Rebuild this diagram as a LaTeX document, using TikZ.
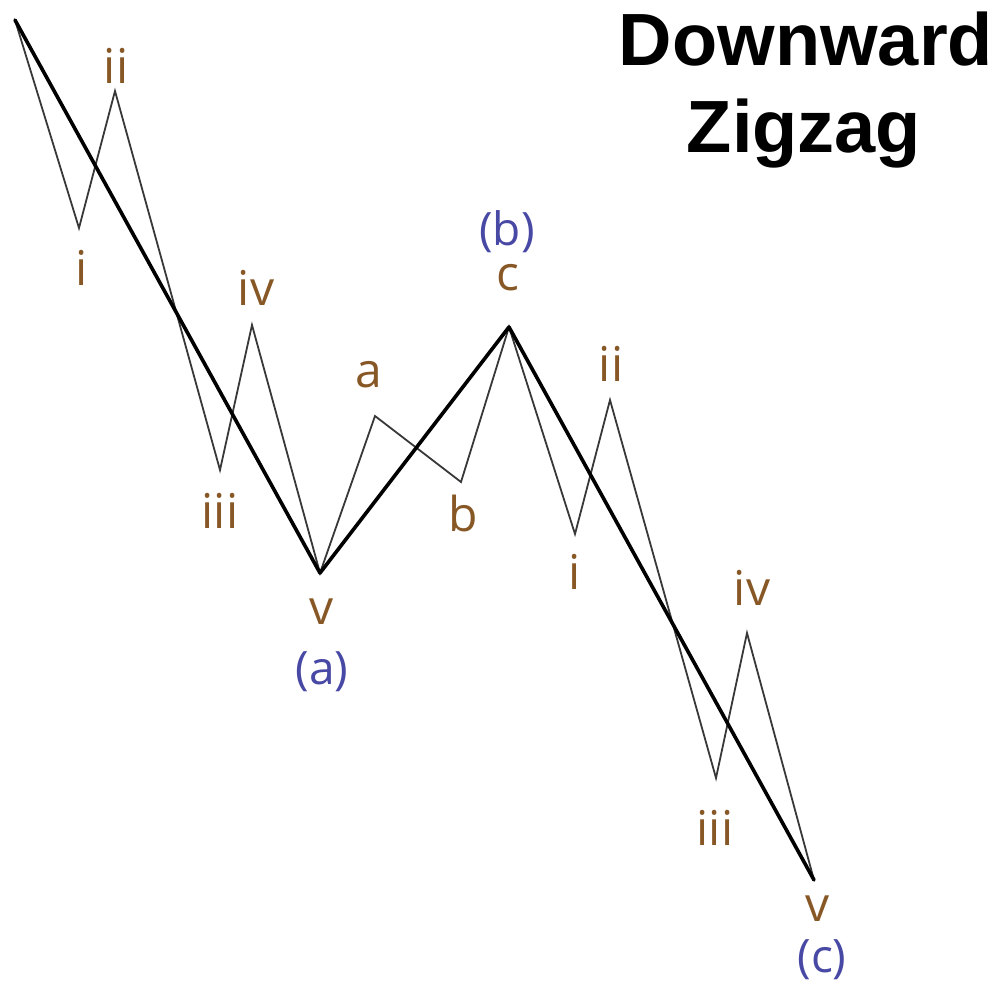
\documentclass[tikz,border=0pt]{standalone}
\usepackage{fontspec}
\setmainfont{Open Sans}
\newfontfamily\titlefont{Liberation Sans}
\definecolor{lblbrown}{RGB}{135,88,38}
\definecolor{lblblue}{RGB}{72,72,165}
\begin{document}
\begin{tikzpicture}[x=1pt,y=-1pt,
  thinwave/.style={draw=black!78,line width=1.8pt,line join=miter},
  thickwave/.style={draw=black,line width=3.6pt,line join=round,line cap=round},
  lbl/.style={text=lblbrown,font=\fontsize{48}{48}\selectfont,inner sep=0pt},
  deg/.style={text=lblblue,font=\fontsize{46}{46}\selectfont,inner sep=0pt},
  ttl/.style={font=\titlefont\bfseries\fontsize{74}{87}\selectfont,inner sep=0pt,anchor=base}]
\useasboundingbox (0,0) rectangle (996,994);
% vertices
\coordinate (s) at (15,20);
\coordinate (p1) at (79,228);
\coordinate (p2) at (115,91);
\coordinate (p3) at (220,470);
\coordinate (p4) at (252,325);
\coordinate (pa) at (320,573);
\coordinate (qa) at (375,416);
\coordinate (qb) at (461,482);
\coordinate (pb) at (509,327);
\coordinate (r1) at (575,534);
\coordinate (r2) at (610,400);
\coordinate (r3) at (716,778);
\coordinate (r4) at (747,633);
\coordinate (pc) at (814,880);
% waves
\draw[thinwave] (s) -- (p1) -- (p2) -- (p3) -- (p4) -- (pa) -- (qa) -- (qb) -- (pb) -- (r1) -- (r2) -- (r3) -- (r4) -- (pc);
\draw[thickwave] (s) -- (pa) -- (pb) -- (pc);
% labels
\node[lbl] (l1) at (82,268) {i};
\node[lbl] (l2) at (116,66) {ii};
\node[lbl] (l3) at (220,511) {iii};
\node[lbl] (l4) at (256,288) {iv};
\node[lbl] (l5) at (322,612) {v};
\node[deg] (la) at (322,672) {(a)};
\node[lbl] (lA) at (369,375) {a};
\node[lbl] (lB) at (463,513) {b};
\node[lbl] (lC) at (508,278) {c};
\node[deg] (lb) at (507,232) {(b)};
\node[lbl] (m1) at (575,572) {i};
\node[lbl] (m2) at (611,364) {ii};
\node[lbl] (m3) at (715,828) {iii};
\node[lbl] (m4) at (752,588) {iv};
\node[lbl] (m5) at (818,909) {v};
\node[deg] (lc) at (822,960) {(c)};
\node[ttl] (title1) at (806,65) {Downward};
\node[ttl] (title2) at (804,152) {Zigzag};
\end{tikzpicture}
\end{document}
